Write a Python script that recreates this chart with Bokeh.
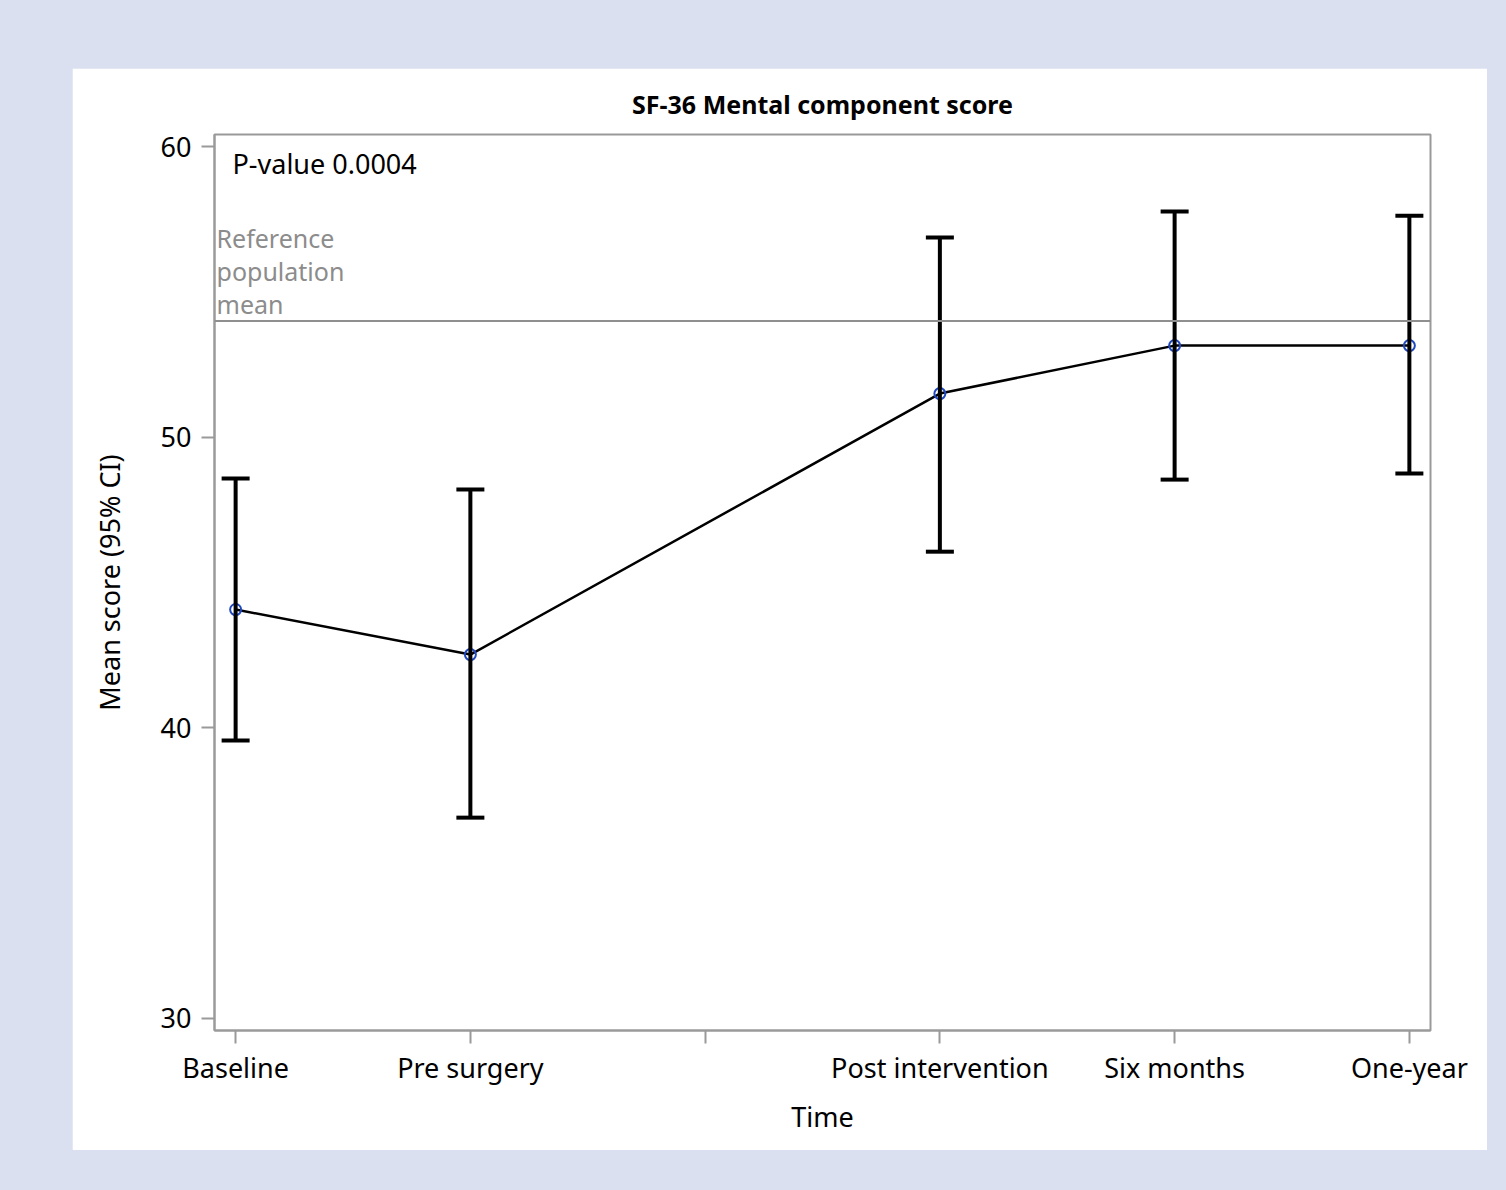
from bokeh.plotting import figure
from bokeh.models import (ColumnDataSource, Whisker, TeeHead, Span, Label,
                          FixedTicker, Range1d, Spacer)
from bokeh.layouts import row, column
from bokeh.embed import file_html
from bokeh.resources import INLINE

# ---- data ----
categories = ["Baseline", "Pre surgery", "", "Post intervention", "Six months", "One-year"]
time_pos = [0, 1, 3, 4, 5]
mean_score = [44.07, 42.52, 51.5, 53.15, 53.15]
ci_lower = [39.56, 36.91, 46.06, 48.54, 48.75]
ci_upper = [48.58, 48.2, 56.87, 57.76, 57.62]
ref_mean = 54.0
p_value_text = "P-value 0.0004"
y_ticks = [30, 40, 50, 60]

FONT = "Noto Sans"
GREY = "#9a9a9a"

src = ColumnDataSource(dict(x=time_pos, y=mean_score, lo=ci_lower, hi=ci_upper))

x_rng = Range1d(-0.09, 5.09)
y_rng = Range1d(29.587, 60.413)

p = figure(width=1415, height=1082, x_range=x_rng, y_range=y_rng,
           output_backend="svg", toolbar_location=None,
           title="SF-36 Mental component score",
           min_border_left=142, min_border_right=57,
           min_border_top=66, min_border_bottom=120)

p.background_fill_color = "white"
p.border_fill_color = "white"
p.outline_line_color = GREY
p.outline_line_width = 2
p.xgrid.visible = False
p.ygrid.visible = False

p.title.align = "center"
p.title.text_font = FONT
p.title.text_font_size = "25px"
p.title.text_font_style = "bold"
p.title.text_color = "black"
p.title.standoff = 28

for ax in (p.xaxis[0], p.yaxis[0]):
    ax.axis_line_color = GREY
    ax.axis_line_width = 2
    ax.major_tick_line_color = GREY
    ax.major_tick_line_width = 2
    ax.major_tick_out = 13
    ax.major_tick_in = 0
    ax.minor_tick_line_color = None
    ax.major_label_text_font = FONT
    ax.major_label_text_font_size = "27px"
    ax.major_label_text_color = "black"
    ax.axis_label_text_font = FONT
    ax.axis_label_text_font_size = "27px"
    ax.axis_label_text_font_style = "normal"
    ax.axis_label_text_color = "black"

p.xaxis.ticker = FixedTicker(ticks=list(range(len(categories))))
p.xaxis.major_label_overrides = {i: c for i, c in enumerate(categories)}
p.xaxis.axis_label = "Time"
p.xaxis.major_label_standoff = 5
p.xaxis.axis_label_standoff = 9

p.yaxis.ticker = FixedTicker(ticks=y_ticks)
p.yaxis.axis_label = "Mean score (95% CI)"
p.yaxis.major_label_standoff = 10
p.yaxis.axis_label_standoff = 30

# reference line
p.add_layout(Span(location=ref_mean, dimension="width", line_color="#8f8f8f", line_width=2))
for i, t in enumerate(["mean", "population", "Reference"]):
    p.add_layout(Label(x=x_rng.start, y=ref_mean, text=t, x_offset=2, y_offset=17 + 33 * i,
                       text_baseline="middle", text_align="left",
                       text_font=FONT, text_font_size="25px", text_color="#8c8c8c"))

# p-value
p.add_layout(Label(x=x_rng.start, y=y_rng.end, text=p_value_text, x_offset=18, y_offset=-29,
                   text_baseline="middle", text_align="left",
                   text_font=FONT, text_font_size="27px", text_color="black"))

# mean line and markers
p.line("x", "y", source=src, line_color="black", line_width=2.5)

w = Whisker(base="x", lower="lo", upper="hi", source=src, dimension="height",
            line_color="black", line_width=4, level="glyph",
            upper_head=TeeHead(size=28, line_width=4, line_color="black"),
            lower_head=TeeHead(size=28, line_width=4, line_color="black"))
p.add_layout(w)

p.scatter("x", "y", source=src, marker="circle", size=11, fill_color=None,
          line_color="#1f48c0", line_width=2)

layout = row(Spacer(width=72), column(Spacer(height=68), p))

html = file_html(layout, INLINE)
html = html.replace("</head>",
                    "<style>html, body { background-color: #dae0ef; }</style></head>", 1)
open("out.html", "w").write(html)
